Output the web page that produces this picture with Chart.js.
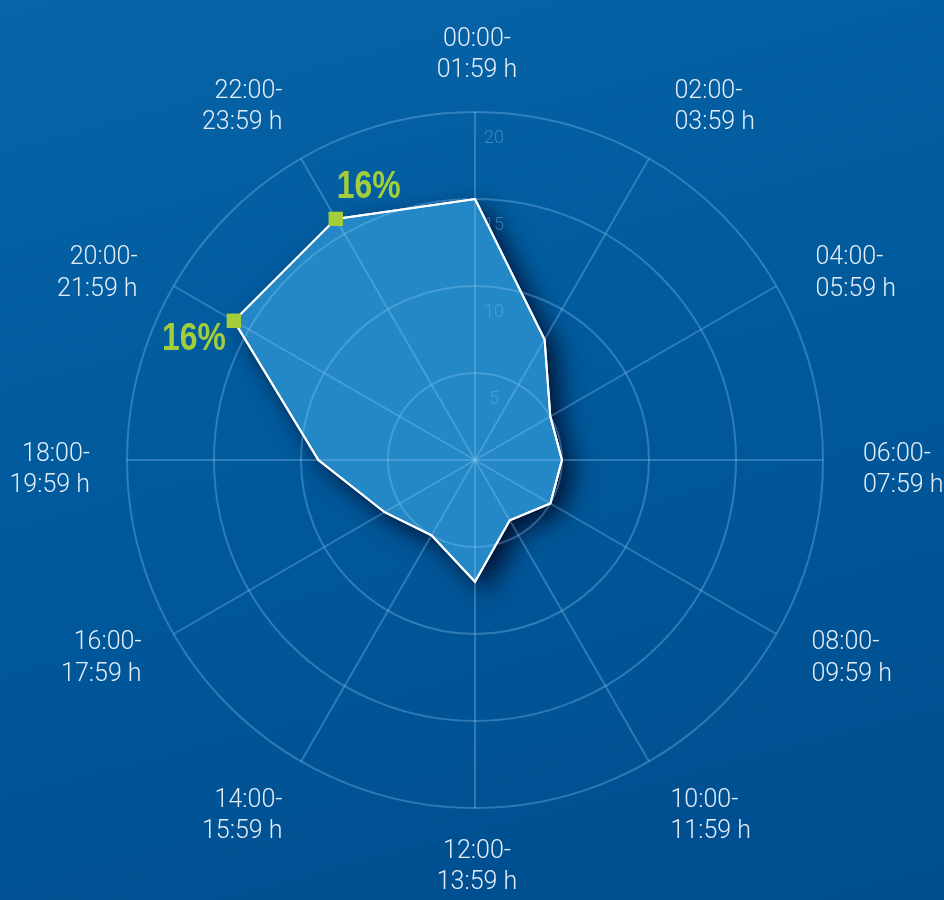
<!DOCTYPE html>
<html>
<head>
<meta charset="utf-8">
<script src="https://cdn.jsdelivr.net/npm/chart.js@4/dist/chart.umd.min.js"></script>
<style>
  html, body { margin: 0; padding: 0; }
  body { width: 944px; height: 900px; overflow: hidden;
    background: linear-gradient(165deg, #0864a8 0%, #005a9c 45%, #004d8e 100%); }
  #wrap { position: relative; width: 944px; height: 900px; }
</style>
</head>
<body>
<div id="wrap"><canvas id="radarChart"></canvas></div>
<script>
var timeSlots = [
  ["00:00-", "01:59 h"], ["02:00-", "03:59 h"], ["04:00-", "05:59 h"],
  ["06:00-", "07:59 h"], ["08:00-", "09:59 h"], ["10:00-", "11:59 h"],
  ["12:00-", "13:59 h"], ["14:00-", "15:59 h"], ["16:00-", "17:59 h"],
  ["18:00-", "19:59 h"], ["20:00-", "21:59 h"], ["22:00-", "23:59 h"]
];
var shares = [15, 8, 5, 5, 5, 4, 7, 5, 6, 9, 16, 16];
var tickValues = [5, 10, 15, 20];
var peakLabels = { 10: "16%", 11: "16%" };

var peak = Math.max.apply(null, shares);

// drop shadow for the filled area (filler runs before our dataset hooks, so set it early)
var shadowPlugin = {
  id: 'shadow',
  beforeDraw: function(chart) {
    var ctx = chart.ctx;
    ctx.save();
    ctx.shadowColor = 'rgba(0, 18, 50, 1)';
    ctx.shadowBlur = 26;
    ctx.shadowOffsetX = 11;
    ctx.shadowOffsetY = 10;
  },
  afterDatasetDraw: function(chart, args) {
    if (args.index !== 0) return;
    chart.ctx.restore();
  }
};

// hour labels, tick numbers, outline on top of grid, peak labels
var overlayPlugin = {
  id: 'overlay',
  afterDraw: function(chart) {
    var ctx = chart.ctx;
    var scale = chart.scales.r;
    var n = chart.data.labels.length;

    // hour labels around the chart
    ctx.save();
    ctx.font = '300 25px Roboto, "DejaVu Sans", sans-serif';
    ctx.fillStyle = '#e4edf7';
    ctx.textBaseline = 'middle';
    for (var i = 0; i < n; i++) {
      var pos = scale.getPointPosition(i, scale.drawingArea + 37);
      var deg = i * 360 / n;
      var x = pos.x, y1, y2;
      if (deg === 0 || deg === 180) { ctx.textAlign = 'center'; x += 2; }
      else if (deg < 180) { ctx.textAlign = 'left'; x += (deg <= 60 ? 7 : 3); }
      else { ctx.textAlign = 'right'; x += (deg === 300 ? -4 : 0); }
      if (deg <= 30 || deg >= 330) { y1 = pos.y - 35; y2 = pos.y - 4; }
      else if (deg >= 150 && deg <= 210) { y1 = pos.y + 7; y2 = pos.y + 38; }
      else if (deg === 90 || deg === 270) { y1 = pos.y - 5; y2 = pos.y + 26; }
      else { y1 = pos.y - 10; y2 = pos.y + 22; }
      var lbl = chart.data.labels[i];
      ctx.fillText(lbl[0], x, y1);
      ctx.fillText(lbl[1], x, y2);
    }
    ctx.restore();

    // ring values, set just below each ring
    ctx.save();
    ctx.font = '300 18px Roboto, "DejaVu Sans", sans-serif';
    ctx.fillStyle = 'rgba(120, 185, 235, 0.45)';
    ctx.textAlign = 'center';
    ctx.textBaseline = 'middle';
    tickValues.forEach(function(v) {
      var d = scale.getDistanceFromCenterForValue(v);
      ctx.fillText(String(v), scale.xCenter + 19, scale.yCenter - d + 26);
    });
    ctx.restore();

    chart.getDatasetMeta(1).controller.draw();

    var meta = chart.getDatasetMeta(1);
    ctx.save();
    ctx.fillStyle = '#a3cd3a';
    ctx.textBaseline = 'middle';
    ctx.textAlign = 'center';
    ctx.font = 'bold 38px "Liberation Sans Narrow", "Arial Narrow", sans-serif';
    var offsets = { 10: [-40, 19], 11: [33, -31] };
    Object.keys(peakLabels).forEach(function(k) {
      var pt = meta.data[k];
      ctx.save();
      ctx.translate(pt.x + offsets[k][0], pt.y + offsets[k][1]);
      ctx.scale(0.84, 1);
      ctx.fillText(peakLabels[k], 0, 0);
      ctx.restore();
    });
    ctx.restore();
  }
};

var ctx = document.getElementById('radarChart');
var radarChart = new Chart(ctx, {
  type: 'radar',
  data: {
    labels: timeSlots,
    datasets: [
      {
        data: shares,
        backgroundColor: '#2388c5',
        borderWidth: 0,
        pointRadius: 0,
        fill: true,
        order: 2
      },
      {
        data: shares,
        borderColor: '#ffffff',
        borderWidth: 2,
        fill: false,
        pointStyle: 'rect',
        pointRadius: function(c) { return c.raw === peak ? 10 : 0; },
        pointBackgroundColor: '#a3cd3a',
        pointBorderWidth: 0,
        order: 1
      }
    ]
  },
  options: {
    responsive: true,
    maintainAspectRatio: false,
    animation: false,
    layout: { padding: { top: 112, bottom: 92, left: 127, right: 121 } },
    plugins: {
      legend: { display: false },
      tooltip: { enabled: false }
    },
    elements: { line: { tension: 0 } },
    scales: {
      r: {
        min: 0,
        max: 20,
        startAngle: 0,
        ticks: { stepSize: 5, display: false },
        grid: { color: 'rgba(140, 200, 245, 0.33)', lineWidth: 2, circular: true, z: 1 },
        angleLines: { color: 'rgba(140, 200, 245, 0.33)', lineWidth: 2 },
        pointLabels: { display: false }
      }
    }
  },
  plugins: [shadowPlugin, overlayPlugin]
});
</script>
</body>
</html>
